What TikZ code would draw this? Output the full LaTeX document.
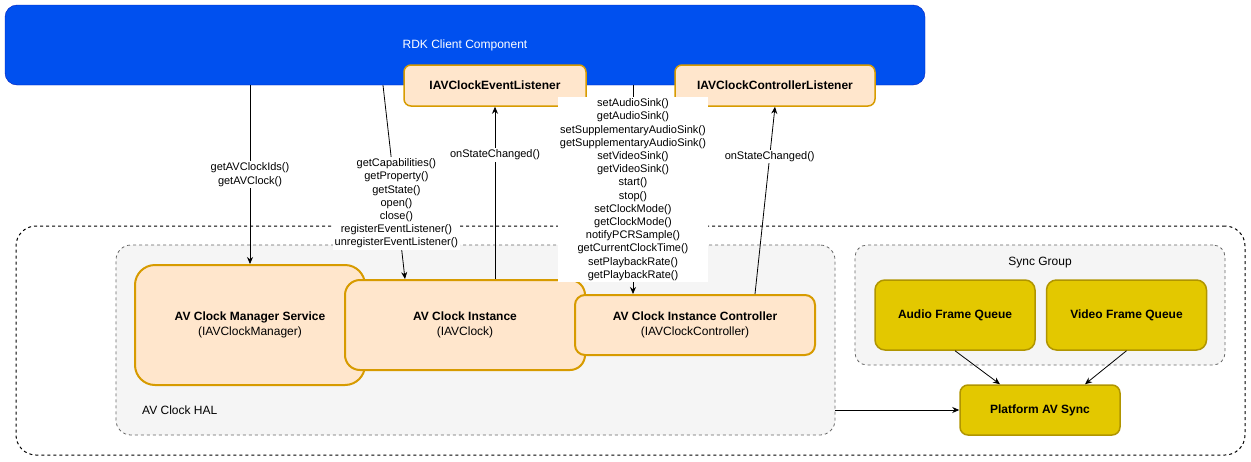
\documentclass[tikz,border=0pt]{standalone}
\usepackage{fontspec}
\setmainfont{Liberation Sans}
\usepackage{xcolor}
\usetikzlibrary{arrows.meta, positioning}
\definecolor{rdkfill}{HTML}{0050EF}
\definecolor{rdkline}{HTML}{001DBC}
\definecolor{halfill}{HTML}{FFE6CC}
\definecolor{halline}{HTML}{D79B00}
\definecolor{syncfill}{HTML}{E3C800}
\definecolor{syncline}{HTML}{B09500}
\definecolor{groupfill}{HTML}{F5F5F5}
\definecolor{groupline}{HTML}{666666}
\tikzset{
    client/.style={rectangle, rounded corners=12pt, minimum width=920pt, minimum height=80pt, draw=rdkline, fill=rdkfill, text=white, font=\fontsize{12}{14.4}\selectfont},
    listener/.style={rectangle, rounded corners=7pt, minimum height=41pt, draw=halline, line width=1.5pt, fill=halfill, font=\bfseries\fontsize{12}{14.4}\selectfont},
    component/.style={rectangle, minimum width=240pt, draw=halline, line width=2pt, fill=halfill, align=center, font=\fontsize{12}{14.4}\selectfont},
    system/.style={rectangle, rounded corners=20pt, minimum width=1229pt, minimum height=229pt, draw=black, line width=1pt, dash pattern=on 3pt off 3pt},
    group/.style={rectangle, rounded corners=15pt, draw=groupline, line width=0.8pt, dash pattern=on 3pt off 3pt, fill=groupfill},
    grouplabel/.style={inner sep=0pt, font=\fontsize{12}{14.4}\selectfont},
    syncbox/.style={rectangle, rounded corners=10pt, minimum width=160pt, draw=syncline, line width=1.5pt, fill=syncfill, font=\bfseries\fontsize{12}{14.4}\selectfont},
    arrow/.style={line width=0.8pt, -{Stealth[length=7pt,width=6pt]}},
    calls/.style={fill=white, inner sep=1.5pt, align=center, font=\fontsize{11}{13.2}\selectfont},
}

\begin{document}
\begin{tikzpicture}[x=1pt, y=-1pt]
  \useasboundingbox (0,0) rectangle (1251,461);

  \node[system] (avsystem) at (630.5,340.5) {};
  \node[group, minimum width=719pt, minimum height=190pt] (hal) at (475.5,340) {};
  \node[grouplabel, anchor=west] (hallabel) at (142,410) {AV Clock HAL};
  \node[group, rounded corners=12pt, minimum width=370pt, minimum height=120pt] (syncgroup) at (1040,305) {};
  \node[grouplabel] (synclabel) at (1040,263) {Sync Group};

  \node[component, minimum width=230pt, minimum height=120pt, rounded corners=20pt] (mgr) at (250,325) {\textbf{AV Clock Manager Service}\\(IAVClockManager)};
  \node[component, minimum height=90pt, rounded corners=15pt] (inst) at (465,325) {\textbf{AV Clock Instance}\\(IAVClock)};
  \node[component, minimum height=60pt, rounded corners=10pt] (ctrl) at (695,325) {\textbf{AV Clock Instance Controller}\\(IAVClockController)};

  \node[client] (client) at (465,45) {RDK Client Component};
  \node[listener, minimum width=182pt] (evl) at (495,85.5) {IAVClockEventListener};
  \node[listener, minimum width=200pt] (cll) at (775,85.5) {IAVClockControllerListener};

  \node[syncbox, minimum height=70pt] (audio) at (955,315) {Audio Frame Queue};
  \node[syncbox, minimum height=70pt, right=10pt of audio] (video) {Video Frame Queue};
  \node[syncbox, minimum height=50pt, rounded corners=8pt] (plat) at (1040,410) {Platform AV Sync};

  \coordinate (ctrlin) at ([xshift=-62pt]ctrl.north);

  \draw[arrow] (mgr.north |- client.south) -- node[calls] {getAVClockIds()\\getAVClock()} (mgr.north);
  \draw[arrow] ([xshift=-82pt]client.south) -- node[calls, pos=0.61] {getCapabilities()\\getProperty()\\getState()\\open()\\close()\\registerEventListener()\\unregisterEventListener()} ([xshift=-60pt]inst.north);
  \draw[arrow] (evl.south |- inst.north) -- node[calls, pos=0.72] {onStateChanged()} (evl.south);
  \draw[arrow] (ctrlin |- client.south) -- node[calls] {setAudioSink()\\getAudioSink()\\setSupplementaryAudioSink()\\getSupplementaryAudioSink()\\setVideoSink()\\getVideoSink()\\start()\\stop()\\setClockMode()\\getClockMode()\\notifyPCRSample()\\getCurrentClockTime()\\setPlaybackRate()\\getPlaybackRate()} (ctrlin);
  \draw[arrow] ([xshift=60pt]ctrl.north) -- node[calls, pos=0.735] {onStateChanged()} (cll.south);
  \draw[arrow] (audio.south) -- ([xshift=-40pt]plat.north);
  \draw[arrow] (video.south) -- ([xshift=45pt]plat.north);
  \draw[arrow] (hal.east |- plat.west) -- (plat.west);
\end{tikzpicture}
\end{document}
